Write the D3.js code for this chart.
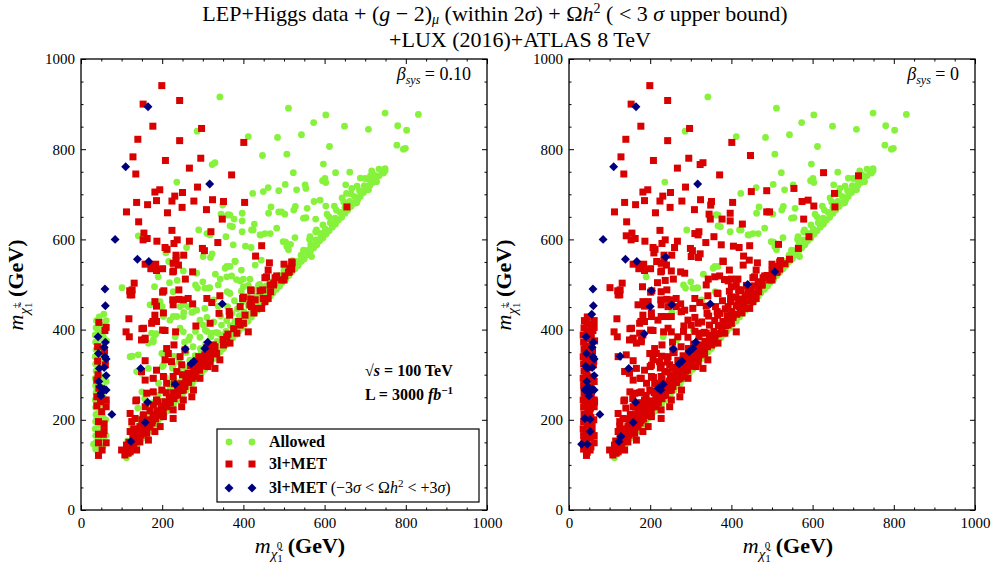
<!DOCTYPE html>
<html><head><meta charset="utf-8">
<script src="https://cdn.jsdelivr.net/npm/d3@7"></script>
<style>
body{margin:0;background:#fff}
svg{display:block}
text{font-family:"Liberation Serif","DejaVu Serif",serif;fill:#000}
</style>
</head><body>
<svg id="chart" width="991" height="563"></svg>
<script>
// ---------------- data ----------------
const majorTicks = [0, 200, 400, 600, 800, 1000];
const minorTicks = [50,100,150,250,300,350,450,500,550,650,700,750,850,900,950];
const betaLabels = ["0.10", "0"];
const legendLabels = ["Allowed", "3l+MET", "3l+MET"];

// green in both panels: lower edge of the diagonal band
const allowedEdge = [[112,116],[118,125],[125,131],[132,140],[139,146],[146,155],[153,161],[160,169],[168,175],[175,184],[183,190],[190,199],[198,205],[205,214],[213,220],[220,229],[228,235],[236,244],[243,251],[251,259],[259,266],[266,275],[274,281],[282,290],[289,297],[297,305],[305,312],[312,321],[320,327],[328,336],[335,343],[343,351],[351,358],[358,367],[366,373],[374,382],[381,389],[389,397],[397,404],[404,413],[412,419],[420,428],[427,435],[435,443],[443,450],[450,459],[458,465],[466,474],[473,481],[481,489],[489,496],[496,505],[504,511],[512,520],[519,527],[527,535],[535,542],[542,551],[550,557],[558,566],[565,573],[573,581],[581,588],[588,597],[596,603],[604,612],[611,619],[619,627],[627,634],[634,643],[642,649],[650,658],[657,665],[665,673],[673,680],[680,689],[688,695],[696,704],[703,711],[711,719],[719,726],[726,735],[734,741],[742,750],[749,757]];
// green in both panels: upper layers of the band at high mass
const allowedBand = [[482,503],[494,517],[506,527],[518,541],[530,551],[542,565],[554,575],[566,589],[578,599],[590,613],[602,623],[614,637],[626,647],[638,660],[650,671],[662,684],[674,695],[686,708],[698,719],[710,732],[722,743],[734,756],[563,600],[578,617],[596,632],[611,650],[629,665],[647,683],[665,701],[680,718],[700,735],[716,752],[606,656],[624,674],[643,692],[667,713],[688,736]];
// green in both panels: scattered
const allowedScatter = [[342,916],[286,840],[412,828],[484,826],[511,891],[603,876],[749,880],[831,877],[573,859],[649,851],[708,844],[780,852],[802,842],[543,832],[612,806],[778,809],[794,800],[799,802],[507,789],[597,767],[523,748],[662,749],[745,747],[749,752],[718,727],[728,728],[601,735],[595,730],[603,726],[708,710],[652,721],[681,687],[679,681],[423,702],[461,715],[503,722],[531,710],[552,721],[557,669],[528,673],[502,656],[524,665],[468,672],[462,658],[554,648],[466,613],[443,610],[527,604],[504,594],[511,577],[359,540],[361,654],[367,654],[367,630],[420,621],[441,610],[290,621],[355,536],[367,540],[331,523],[300,506],[317,493],[190,517],[287,492],[282,499],[305,492],[313,492],[236,727],[498,595],[507,584],[580,621],[593,613],[564,606],[548,576],[572,584],[544,554],[568,562],[482,625],[453,613],[548,647],[253,438],[273,438],[360,484],[327,466],[232,384],[306,399],[265,377],[424,621],[397,617],[373,628],[363,655]];
// green on the left (beta=0.10), red on the right (beta=0)
const excludedRightBand = [[108,128],[116,138],[125,147],[134,157],[143,164],[152,175],[161,183],[170,193],[179,200],[188,211],[197,218],[206,229],[215,236],[224,247],[233,254],[242,265],[251,272],[260,283],[269,290],[278,301],[287,308],[296,319],[305,326],[314,337],[323,344],[332,355],[341,362],[350,373],[359,380],[368,391],[377,398],[386,409],[395,416],[404,427],[413,434],[422,445],[431,452],[440,463],[449,470],[458,481],[467,488],[476,499],
[115,153],[126,167],[137,176],[148,190],[159,198],[170,212],[181,220],[192,233],[203,242],[214,255],[225,264],[236,277],[247,286],[258,299],[269,308],[280,321],[291,330],[302,343],[313,352],[324,365],[335,374],[346,387],[357,396],[368,409],[379,418],[390,431],[401,440],[412,453],[423,462],[434,475],[445,484],[456,497],[467,506],
[125,186],[138,202],[151,212],[164,228],[177,238],[190,254],[203,264],[216,280],[229,290],[242,306],[255,316],[268,332],[281,342],[294,358],[307,368],[320,384],[333,394],[346,410],[359,420],[372,436],[385,446],[398,462],[411,472],[424,488],[437,498],
[140,226],[157,247],[174,260],[191,281],[208,294],[225,315],[242,328],[259,349],[276,362],[293,383],[310,396],[327,417],[344,430],[361,451],[378,464],[395,485],[412,498],
[150,262],[175,292],[200,318],[228,341],[255,372],[282,396],[310,427],[338,452],[365,481],[392,508],
[488,520],[500,531],[512,540],[521,553],[532,546]];
const excludedRightScatter = [[447,786],[323,766],[330,770],[627,748],[713,741],[654,702],[449,706],[487,708],[554,713],[574,684],[589,687],[603,674],[494,661],[578,645],[345,656],[397,658],[377,645],[397,641],[427,634],[487,661],[310,613],[357,606],[375,588],[405,585],[141,608],[209,570],[216,551],[323,568],[419,582],[444,554],[379,552],[371,519],[395,532],[343,512],[400,512],[416,512],[101,493],[237,509],[181,495],[227,484],[260,582],[301,562],[319,560],[380,551],[429,543],[218,504],[252,530],[285,525],[359,517],[383,511],[400,495],[338,499],[367,480],[252,462],[264,451],[285,443],[203,429],[227,429],[252,429],[516,589],[591,606],[565,580],[543,556],[318,610],[349,676],[166,370],[178,377],[174,392],[141,344],[199,347],[227,321],[203,321],[137,307],[166,314],[268,384],[244,403],[252,395],[293,421],[301,410],[322,392],[338,392],[170,455],[195,462],[244,451],[277,440],[305,447],[121,340],[149,303],[178,373],[182,388],[219,421],[236,429]];
const excludedRightCluster = [[36,135],[37,150],[36,165],[35,180],[36,196],[37,212],[36,228],[35,244],[37,260],[36,276],[35,292],[37,308],[36,324],[35,340],[37,356],[36,372],[35,388],[37,404],[38,420],[45,128],[46,143],[44,158],[46,173],[45,188],[44,204],[46,220],[45,236],[44,252],[46,268],[45,284],[44,300],[46,316],[45,332],[44,348],[46,364],[45,380],[44,396],[46,412],[45,428],[54,140],[53,160],[55,182],[54,205],[53,226],[55,250],[54,272],[53,295],[55,318],[54,340],[53,362],[55,385],[54,408],[62,165],[61,200],[63,240],[62,285],[61,330],[63,375],[62,420]];
// red in both panels
const excludedBoth = [[199,941],[153,900],[243,908],[177,851],[297,846],[140,822],[243,819],[401,815],[128,783],[208,775],[295,780],[267,758],[135,745],[371,743],[287,716],[194,710],[182,705],[231,696],[250,704],[137,682],[164,677],[186,686],[224,685],[278,685],[324,688],[351,684],[403,682],[249,671],[309,666],[112,661],[213,659],[348,645],[142,639],[224,620],[320,617],[155,614],[153,599],[163,602],[187,596],[237,599],[267,596],[337,593],[229,591],[207,582],[212,578],[299,580],[304,575],[234,565],[253,565],[445,586],[430,563],[158,545],[184,545],[234,553],[275,528],[201,535],[172,535],[228,530],[257,512],[131,503],[126,488],[121,477],[204,486],[241,488],[177,541],[186,531],[227,547],[240,543],[226,528],[655,672],
[464,548],[500,545],[519,550],[515,536],[461,532],[511,527],[453,515],[478,515],[466,499],[500,510],[475,503],[418,488],[441,486],[400,472],[418,468],[449,469],[342,475],[310,469],[482,519],[457,517],[474,499],[467,484],[448,488],[461,469],[520,548],[519,534],[513,528],[502,519],[494,510],[398,469],[404,432],[419,486],[420,451],[426,437],[445,447],[322,460],[340,436],[366,432],[365,440],[392,451],[416,455],[433,447],[453,462],[429,466],[392,410],[412,395],[384,392],[359,384],[367,370],[351,366],[400,414],
[182,462],[186,452],[203,437],[182,432],[227,455],[226,466],[241,467],[275,457],[125,477],[120,486],[118,424],[111,395],[119,384],[150,402],[157,378],[158,331],[149,307],[158,288],[135,242],[125,196],[174,414],[180,418],[201,483],[233,395],[229,366],[211,358],[207,333],[252,466],[264,469],[283,408],[318,414],[177,418],[186,418],[201,399],[207,398],[154,403],[158,381],[149,377],
[326,366],[322,355],[334,347],[342,333],[318,329],[305,344],[293,336],[285,325],[313,318],[330,314],[256,355],[244,340],[215,347],[223,329],[248,322],[236,307],[264,303],[277,296],[293,292],[203,296],[227,296],[186,310],[178,292],[211,281],[252,266],[277,266],[236,255],[199,266],[178,262],[162,259],[186,244],[219,244],[252,244],[273,251],[137,244],[158,229],[178,233],[203,229],[227,222],[248,229],[154,211],[178,211],[203,207],[227,203],[121,214],[133,203],[145,185],[170,188],[195,185],[121,174],[137,170],[162,170],[182,174],[129,148],[145,151],[166,155],[121,129],[137,133],[108,122],[100,133],[112,144],[125,140],[116,126],
[350,378],[362,390],[376,402],[388,418],[300,322],[312,334],[290,312],[272,294],[262,284],[246,268],[232,254],[216,238],[202,224],[190,210],[176,198],[161,184],[150,170],[140,160],[130,150],[118,134],
[112,130],[121,139],[130,148],[139,157],[148,166],[157,175],[166,184],[175,193],[184,202],[193,211],[202,220],[211,229],[220,238],[229,247],[238,256],[247,265],[256,274],[265,283],[274,292],[283,301],[292,310],[301,319],[310,328],[319,337],[328,346],
[118,150],[128,160],[138,170],[148,180],[158,190],[168,200],[178,210],[188,220],[198,230],[208,240],[218,250],[228,260],[238,270],[248,280],[258,290],[268,300],[278,310],[288,320],[298,330],[308,340],[318,350],[330,362],
[130,180],[150,200],[170,220],[190,240],[210,260],[230,280],[250,300],[270,320],[290,340],[310,360],
[43,121],[43,149],[62,149],[43,168],[55,168],[43,196],[57,191],[39,231],[62,229],[51,218],[39,251],[62,244],[39,288],[44,416],[59,398],[42,300],[60,322],[41,330],[58,352],[41,362],[62,405],[44,270],[48,240],[57,176],[52,133]];
// blue (relic density within 3 sigma) in both panels
const relicBoth = [[165,894],[110,761],[317,723],[84,600],[139,556],[167,551],[59,490],[60,453],[348,457],[42,384],[60,372],[57,361],[43,347],[59,340],[62,335],[45,314],[57,316],[62,298],[44,285],[47,273],[49,259],[57,268],[62,266],[49,253],[76,212],[257,357],[147,314],[312,372],[305,358],[271,324],[278,330],[232,279],[164,239],[158,194],[123,152]];
// green on the left, blue on the right
const relicRightOnly = [[238,561],[440,500],[203,486],[200,451],[253,455],[507,528],[185,391],[126,341],[220,270],[128,163],[56,434],[41,319],[39,266],[39,203],[52,201],[52,174],[31,146],[45,146],[296,351],[226,266]];

// ---------------- chart ----------------
const svg = d3.select("#chart");
const W = 406, H = 451;
const panels = [
  {left: 81, top: 59, beta: betaLabels[0],
   green: [allowedEdge, allowedBand, allowedScatter, excludedRightBand, excludedRightScatter, excludedRightCluster, relicRightOnly],
   red: [excludedBoth], blue: [relicBoth], legend: true},
  {left: 569, top: 59, beta: betaLabels[1],
   green: [allowedEdge, allowedBand, allowedScatter],
   red: [excludedRightBand, excludedRightScatter, excludedRightCluster, excludedBoth], blue: [relicBoth, relicRightOnly], legend: false}
];
const GREEN = "#86f23c", RED = "#d90000", BLUE = "#00007f";

function rich(sel, parts) {
  let cur = 0;
  parts.forEach(p => {
    const ts = sel.append("tspan").text(p.t);
    const sh = p.sh || 0;
    if (sh - cur !== 0) ts.attr("dy", sh - cur);
    cur = sh;
    if (p.dx) ts.attr("dx", p.dx);
    if (p.i) ts.attr("font-style", "italic");
    if (p.b) ts.attr("font-weight", "bold");
    if (p.sz) ts.attr("font-size", p.sz);
  });
}
const diamond = d3.symbol().type(d3.symbolSquare).size(40);

panels.forEach(P => {
  const g = svg.append("g").attr("transform", `translate(${P.left},${P.top})`);
  const x = d3.scaleLinear().domain([0, 1000]).range([0, W]);
  const y = d3.scaleLinear().domain([0, 1000]).range([H, 0]);
  const clip = "clip" + P.left;
  g.append("clipPath").attr("id", clip).append("rect").attr("width", W).attr("height", H);
  const pts = g.append("g").attr("clip-path", `url(#${clip})`);
  P.green.flat().forEach(d => pts.append("circle").attr("cx", x(d[0])).attr("cy", y(d[1])).attr("r", 3.4).attr("fill", GREEN));
  P.red.flat().forEach(d => pts.append("rect").attr("x", x(d[0]) - 3.5).attr("y", y(d[1]) - 3.5).attr("width", 7).attr("height", 7).attr("fill", RED));
  P.blue.flat().forEach(d => pts.append("path").attr("d", diamond).attr("transform", `translate(${x(d[0])},${y(d[1])}) rotate(45)`).attr("fill", BLUE));

  // axes
  const styleAxis = a => { a.select(".domain").remove(); a.selectAll("line").attr("stroke", "#000").attr("stroke-width", 1); a.selectAll("text").attr("font-size", 15).attr("font-family", "Liberation Serif, serif"); };
  g.append("g").attr("transform", `translate(0,${H})`).call(d3.axisBottom(x).tickValues(majorTicks).tickSize(-5).tickPadding(7).tickFormat(d3.format("d"))).call(styleAxis);
  g.append("g").call(d3.axisLeft(y).tickValues(majorTicks).tickSize(-5).tickPadding(6).tickFormat(d3.format("d"))).call(styleAxis);
  g.append("g").call(d3.axisTop(x).tickValues(majorTicks).tickSize(-5).tickFormat("")).call(styleAxis);
  g.append("g").attr("transform", `translate(${W},0)`).call(d3.axisRight(y).tickValues(majorTicks).tickSize(-5).tickFormat("")).call(styleAxis);
  g.append("g").attr("transform", `translate(0,${H})`).call(d3.axisBottom(x).tickValues(minorTicks).tickSize(-2.5).tickFormat("")).call(styleAxis);
  g.append("g").call(d3.axisLeft(y).tickValues(minorTicks).tickSize(-2.5).tickFormat("")).call(styleAxis);
  g.append("g").call(d3.axisTop(x).tickValues(minorTicks).tickSize(-2.5).tickFormat("")).call(styleAxis);
  g.append("g").attr("transform", `translate(${W},0)`).call(d3.axisRight(y).tickValues(minorTicks).tickSize(-2.5).tickFormat("")).call(styleAxis);
  g.append("rect").attr("width", W).attr("height", H).attr("fill", "none").attr("stroke", "#000").attr("stroke-width", 1.3);

  // beta label
  const bt = g.append("text").attr("x", W - 16).attr("y", 21).attr("text-anchor", "end").attr("font-size", 18);
  rich(bt, [{t: "β", i: 1}, {t: "sys", i: 1, sz: 12, sh: 4}, {t: " = " + P.beta, sh: 0}]);

  // axis labels
  const yl = svg.append("text").attr("transform", `translate(${P.left - 58},${P.top + 226}) rotate(-90)`).attr("text-anchor", "middle").attr("font-size", 22);
  rich(yl, [{t: "m", i: 1}, {t: "χ̃", i: 1, sz: 15, sh: 6}, {t: "1", sz: 11, sh: 9}, {t: "±", sz: 11, sh: -4, dx: -6}, {t: " (GeV)", b: 1, sh: 0}]);
  const xl = svg.append("text").attr("x", P.left + W / 2 + 16).attr("y", P.top + H + 43).attr("text-anchor", "middle").attr("font-size", 22);
  rich(xl, [{t: "m", i: 1}, {t: "χ̃", i: 1, sz: 15, sh: 6}, {t: "1", sz: 11, sh: 9}, {t: "0", sz: 11, sh: -4, dx: -6}, {t: " (GeV)", b: 1, sh: 0}]);

  if (P.legend) {
    // annotation
    const a1 = g.append("text").attr("x", 284).attr("y", 317).attr("font-size", 16).attr("font-weight", "bold");
    rich(a1, [{t: "√", b: 0}, {t: "s", i: 1}, {t: " = 100 TeV"}]);
    const a2 = g.append("text").attr("x", 284).attr("y", 341).attr("font-size", 16).attr("font-weight", "bold");
    rich(a2, [{t: "L = 3000 "}, {t: "fb", i: 1, b: 0}, {t: "−1", sz: 11, sh: -6}]);
    // legend
    const lg = g.append("g").attr("transform", "translate(136,370)");
    lg.append("rect").attr("width", 262).attr("height", 73).attr("fill", "#fff").attr("stroke", "#000").attr("stroke-width", 1.2);
    const rows = [13, 35, 59];
    [0, 1].forEach(k => {
      const mx = 12 + k * 23;
      lg.append("circle").attr("cx", mx).attr("cy", rows[0]).attr("r", 3.4).attr("fill", GREEN);
      lg.append("rect").attr("x", mx - 3.5).attr("y", rows[1] - 3.5).attr("width", 7).attr("height", 7).attr("fill", RED);
      lg.append("path").attr("d", diamond).attr("transform", `translate(${mx},${rows[2]}) rotate(45)`).attr("fill", BLUE);
    });
    const tx = 52;
    lg.append("text").attr("x", tx).attr("y", rows[0] + 5).attr("font-size", 16).attr("font-weight", "bold").text(legendLabels[0]);
    lg.append("text").attr("x", tx).attr("y", rows[1] + 5).attr("font-size", 16).attr("font-weight", "bold").text(legendLabels[1]);
    const t3 = lg.append("text").attr("x", tx).attr("y", rows[2] + 5).attr("font-size", 16);
    rich(t3, [{t: legendLabels[2] + " ", b: 1}, {t: "(−3"}, {t: "σ", i: 1}, {t: " < Ω"}, {t: "h", i: 1}, {t: "2", sz: 11, sh: -6}, {t: " < +3", sh: 0}, {t: "σ", i: 1}, {t: ")"}]);
  }
});

// title
const t1 = svg.append("text").attr("x", 495).attr("y", 21).attr("text-anchor", "middle").attr("font-size", 22);
rich(t1, [{t: "LEP+Higgs data + ("}, {t: "g", i: 1}, {t: " − 2)"}, {t: "μ", i: 1, sz: 14, sh: 3}, {t: " (within 2", sh: 0}, {t: "σ", i: 1}, {t: ") + Ω"}, {t: "h", i: 1}, {t: "2", sz: 14, sh: -8}, {t: " ( < 3 ", sh: 0}, {t: "σ", i: 1}, {t: " upper bound)"}]);
svg.append("text").attr("x", 520).attr("y", 47).attr("text-anchor", "middle").attr("font-size", 22).text("+LUX (2016)+ATLAS 8 TeV");
</script>
</body></html>
